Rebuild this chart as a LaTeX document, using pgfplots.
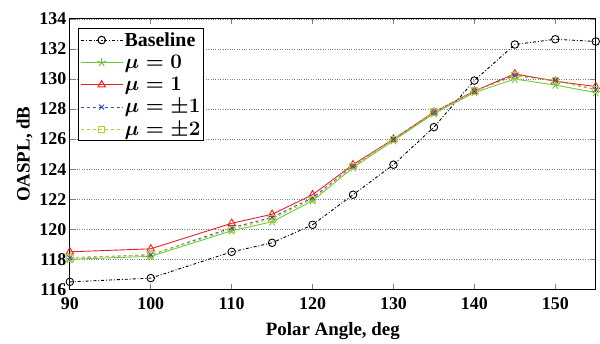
\documentclass[border=0pt]{standalone}
\usepackage{pgfplots}
\pgfplotsset{compat=1.18}
\usepackage{fontspec}
\setmainfont{Liberation Serif}
\definecolor{cgreen}{RGB}{110,200,60}
\definecolor{cred}{RGB}{240,30,30}
\definecolor{cblue}{RGB}{50,80,190}
\definecolor{cyel}{RGB}{190,200,40}
\newcommand{\tickf}{\fontsize{18}{20}\selectfont\bfseries}
\newcommand{\labf}{\fontsize{19}{21}\selectfont\bfseries}
\newcommand{\legf}{\fontsize{20}{22}\selectfont\bfseries\boldmath}
\begin{document}
\begin{tikzpicture}
\begin{axis}[
  name=ax,
  scale only axis, width=527bp, height=271bp,
  xmin=90, xmax=155, ymin=116, ymax=134,
  xtick={90,100,...,150}, ytick={116,118,...,134},
  ymajorgrids, major grid style={black!50, dotted, line width=0.7pt},
  tick align=inside, axis line style={line width=1pt}, major tick length=5bp,
  tick style={line width=0.8pt},
  /pgf/number format/assume math mode=true,
  /pgf/number format/1000 sep={},
  ticklabel style={font=\tickf},
  xticklabel style={yshift=-5bp},
  xlabel={\labf Polar Angle, deg},
  ylabel={\labf OASPL, dB},
  xlabel style={yshift=-6bp},
  legend style={at={(rel axis cs:0.015,0.965)}, anchor=north west, font=\legf, row sep=4.5bp, draw=black, line width=1pt, inner sep=2bp, nodes={inner sep=1.5bp}},
  legend cell align=left,
  legend image code/.code={\draw[mark repeat=2,mark phase=2,line width=1pt] plot coordinates {(0bp,0bp)(21bp,0bp)(42bp,0bp)};},
  every axis plot/.append style={line width=0.9pt},
]
\addplot[black, dash dot, mark=o, mark size=3.8pt, mark options={solid}] coordinates {
(90,116.5)(100,116.75)(110,118.5)(115,119.1)(120,120.3)(125,122.3)(130,124.3)(135,126.8)(140,129.9)(145,132.3)(150,132.65)(155,132.5)};
\addlegendentry{Baseline}
\addplot[cgreen, mark=star, mark size=4.5pt, mark options={solid}] coordinates {
(90,118.0)(100,118.2)(110,119.9)(115,120.5)(120,121.9)(125,124.1)(130,125.9)(135,127.7)(140,129.1)(145,130.0)(150,129.6)(155,129.1)};
\addlegendentry{$\mu = 0$}
\addplot[cred, mark=triangle, mark size=4.3pt, mark options={solid}] coordinates {
(90,118.5)(100,118.7)(110,120.4)(115,121.0)(120,122.3)(125,124.3)(130,126.0)(135,127.8)(140,129.2)(145,130.35)(150,129.85)(155,129.5)};
\addlegendentry{$\mu = 1$}
\addplot[cblue, dashed, mark=x, mark size=3.5pt, mark options={solid}] coordinates {
(90,118.1)(100,118.3)(110,120.1)(115,120.8)(120,122.1)(125,124.2)(130,126.0)(135,127.8)(140,129.2)(145,130.25)(150,129.9)(155,129.3)};
\addlegendentry{$\mu = \pm 1$}
\addplot[cyel, dashed, mark=square, mark size=3.2pt, mark options={solid}] coordinates {
(90,118.1)(100,118.3)(110,120.0)(115,120.7)(120,122.0)(125,124.2)(130,126.0)(135,127.8)(140,129.2)(145,130.2)(150,129.9)(155,129.3)};
\addlegendentry{$\mu = \pm 2$}
\end{axis}
\path[use as bounding box] ([xshift=-70bp,yshift=-51bp]ax.south west) rectangle ([xshift=3bp,yshift=19bp]ax.north east);
\end{tikzpicture}
\end{document}
